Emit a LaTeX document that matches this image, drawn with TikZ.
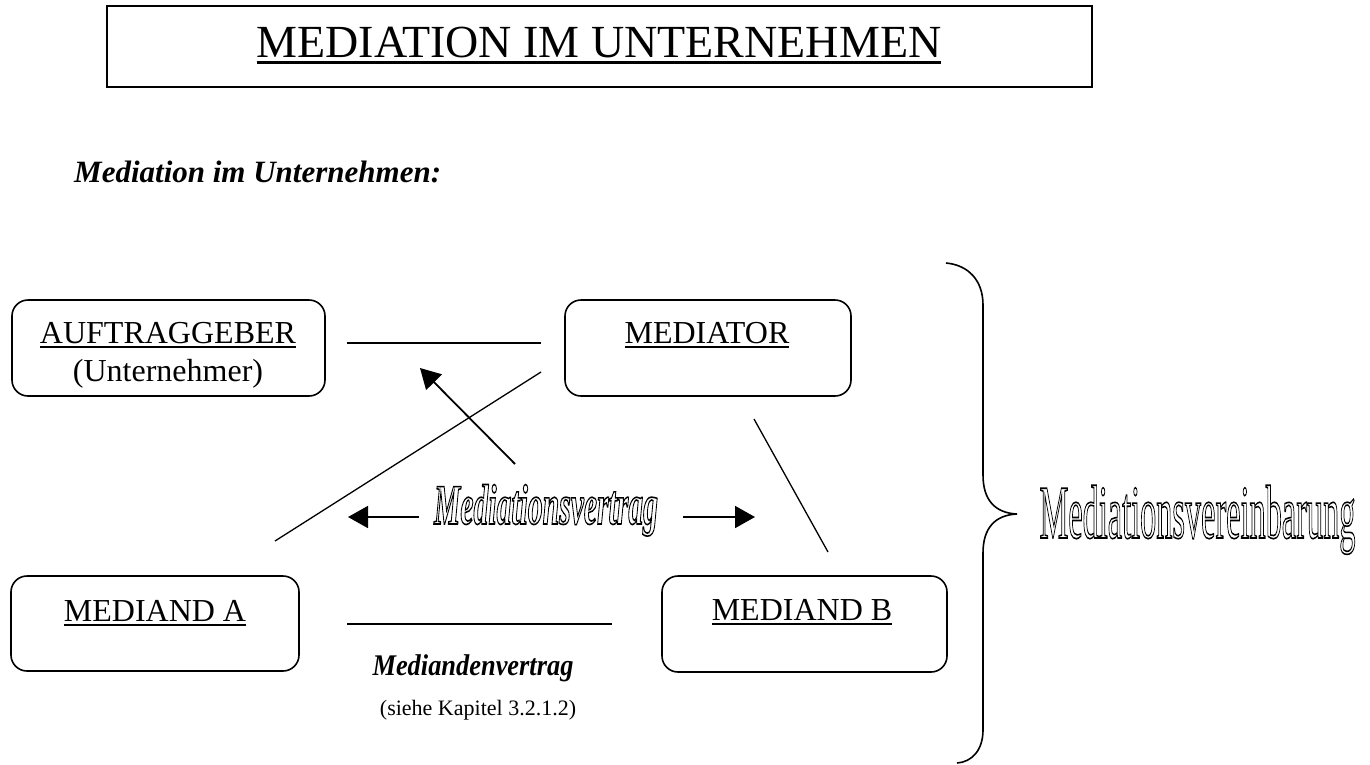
\documentclass[tikz,border=0pt]{standalone}
\usepackage{fontspec}
\usepackage{graphicx}
\setmainfont{Liberation Serif}
\usetikzlibrary{arrows.meta}
\newcommand\myul[3]{\setbox0\hbox{#3}\rlap{\vrule width\wd0 height -#1 depth \dimexpr#1+#2\relax}\box0}
\newcommand\outlinetext[2]{\special{pdf:literal direct q #1 w 1 Tr}#2\special{pdf:literal direct 0 Tr Q}}
\begin{document}
\begin{tikzpicture}[x=1pt,y=-1pt,
  box/.style={draw, line width=1.6pt, rounded corners=16pt, inner sep=0pt},
  lbl/.style={inner sep=0pt, font=\fontsize{32}{38}\selectfont},
  conn/.style={line width=1.8pt},
  thinl/.style={line width=1.3pt},
  arr/.style={line width=1.8pt, -{Triangle[length=20pt,width=22pt]}}]
\useasboundingbox (0,0) rectangle (1370,764);
% title
\node[draw, line width=2pt, minimum width=985pt, minimum height=81pt, inner sep=0pt] (titlebox) at (599.5,46.5) {};
\node[anchor=base, inner sep=0pt, font=\fontsize{46}{52}\selectfont] (title) at (599,57) {\myul{3.5pt}{3pt}{MEDIATION IM UNTERNEHMEN}};
\node[anchor=base west, inner sep=0pt, font=\fontsize{31}{36}\selectfont\bfseries\itshape] (sub) at (74,182) {Mediation im Unternehmen:};
% boxes
\node[box, minimum width=313pt, minimum height=96pt] (auf) at (168.5,348) {};
\node[box, minimum width=286pt, minimum height=96pt] (med) at (708,348) {};
\node[box, minimum width=288pt, minimum height=95pt] (ma) at (155,623.5) {};
\node[box, minimum width=285pt, minimum height=96pt] (mb) at (804.5,624) {};
\node[lbl, anchor=base] (aufT) at (168,343) {\myul{3pt}{2pt}{AUFTRAGGEBER}};
\node[lbl, anchor=base] (aufU) at (168,381) {(Unternehmer)};
\node[lbl, anchor=base] (medT) at (707,343) {\myul{3pt}{2pt}{MEDIATOR}};
\node[lbl, anchor=base] (maT) at (155,621) {\myul{3pt}{2pt}{MEDIAND A}};
\node[lbl, anchor=base] (mbT) at (802,620) {\myul{3pt}{2pt}{MEDIAND B}};
% connectors
\coordinate (h1a) at (347,343); \coordinate (h1b) at (541,343);
\draw[conn] (h1a) -- (h1b);
\coordinate (d1a) at (541,372); \coordinate (d1b) at (275,541);
\draw[thinl] (d1a) -- (d1b);
\coordinate (a1s) at (515,464); \coordinate (a1e) at (420,368);
\draw[arr] (a1s) -- (a1e);
\coordinate (d2a) at (754,419); \coordinate (d2b) at (828,552);
\draw[thinl] (d2a) -- (d2b);
\node[anchor=base, inner sep=0pt, font=\fontsize{57}{62}\selectfont\bfseries\itshape] (mv) at (546,524) {\scalebox{0.52}[1]{\outlinetext{1.6}{Mediationsvertrag}}};
\coordinate (la1) at (419,517); \coordinate (la2) at (348,517);
\coordinate (ra1) at (683,517); \coordinate (ra2) at (755,517);
\draw[arr] (la1) -- (la2);
\draw[arr] (ra1) -- (ra2);
\coordinate (h2a) at (347,624); \coordinate (h2b) at (612,624);
\draw[conn] (h2a) -- (h2b);
\node[anchor=base, inner sep=0pt, font=\fontsize{30}{36}\selectfont\bfseries\itshape] (mdv) at (473,675) {\scalebox{0.88}[1]{Mediandenvertrag}};
\node[anchor=base, inner sep=0pt, font=\fontsize{22}{26}\selectfont] (siehe) at (478,715) {(siehe Kapitel 3.2.1.2)};
% brace
\draw[line width=1.6pt] (946,263) .. controls (968,265) and (983,280) .. (983,305) -- (983,475)
  .. controls (983,500) and (995,513) .. (1017,514)
  .. controls (995,515) and (983,528) .. (983,553) -- (983,730)
  .. controls (983,750) and (972,762) .. (957,763);
\node[anchor=base, inner sep=0pt, font=\fontsize{76}{82}\selectfont] (mvb) at (1197.5,538) {\scalebox{0.425}[1]{\outlinetext{1.6}{Mediationsvereinbarung}}};
\end{tikzpicture}
\end{document}
